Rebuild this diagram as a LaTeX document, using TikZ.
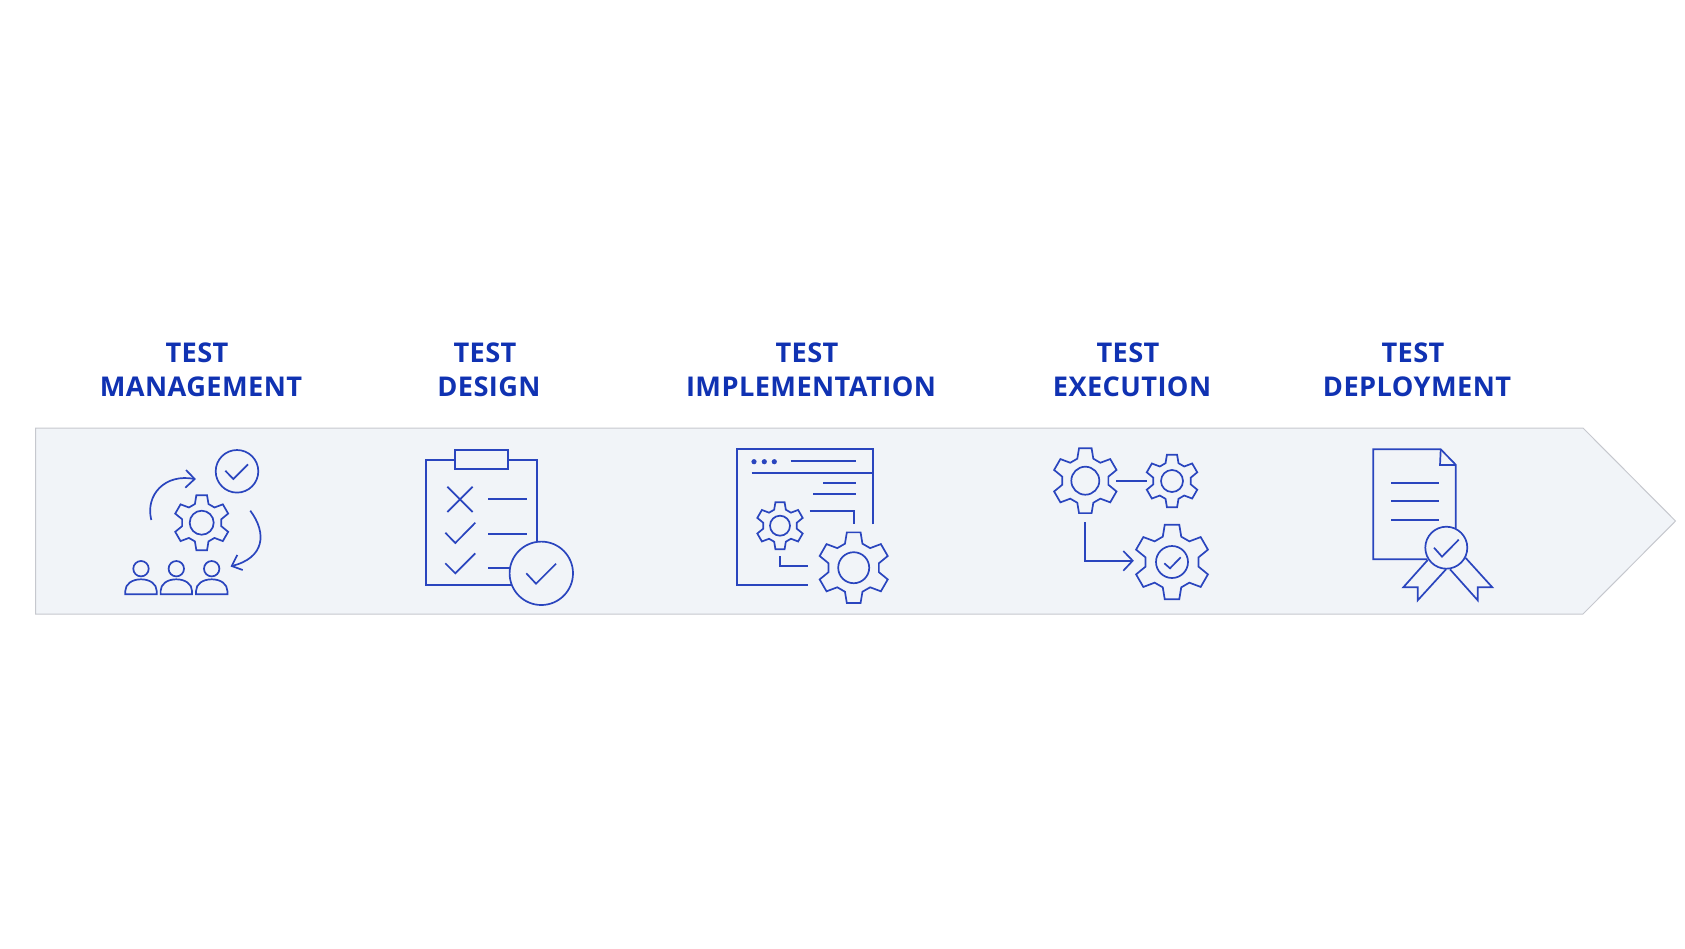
\documentclass[tikz,border=0pt]{standalone}
\usepackage{fontspec}
\setmainfont{Open Sans}[LetterSpace=1.5]
\definecolor{iconblue}{HTML}{2A45BE}
\definecolor{titleblue}{HTML}{1032B2}
\definecolor{bandfill}{HTML}{F1F4F8}
\definecolor{bandline}{HTML}{C6C8CE}
\tikzset{
  ink/.style={draw=iconblue,line width=1.7pt,line join=miter,fill=none},
  title/.style={text=titleblue,font=\bfseries\fontsize{27.2}{34}\selectfont,inner sep=0pt,anchor=base},
}
\newcommand{\gearicon}[4]{% x,y,R,hole
  \draw[ink,shift={(#1,#2)}] (101:#3)
    \foreach \a in {90,30,-30,-90,-150,-210} {
      -- (\a+11:#3) -- (\a-11:#3) -- (\a-20:0.71*#3) -- (\a-40:0.71*#3)
    } -- cycle;
  \draw[ink] (#1,#2) circle[radius=#4];
}
\newcommand{\personicon}[1]{%
  \draw[ink] (#1,568.7) circle[radius=7.7];
  \draw[ink] (#1-15.7,594.3) -- (#1+15.7,594.3) -- (#1+15.7,591)
    .. controls (#1+15.7,584) and (#1+9,579.3) .. (#1,579.3)
    .. controls (#1-9,579.3) and (#1-15.7,584) .. (#1-15.7,591) -- cycle;
}
\begin{document}
\begin{tikzpicture}[x=1pt,y=-1pt]
\useasboundingbox (0,0) rectangle (1685,948);
% banner
\draw[fill=bandfill,draw=bandline,line width=1pt] (35.5,428) -- (1583,428) -- (1675.5,521) -- (1583,614) -- (35.5,614) -- cycle;
% titles
\node[title] (t1a) at (197,362) {TEST};
\node[title] (t1b) at (201,396) {MANAGEMENT};
\node[title] (t2a) at (485,362) {TEST};
\node[title] (t2b) at (489,396) {DESIGN};
\node[title] (t3a) at (807,362) {TEST};
\node[title] (t3b) at (811,396) {IMPLEMENTATION};
\node[title] (t4a) at (1128,362) {TEST};
\node[title] (t4b) at (1132,396) {EXECUTION};
\node[title] (t5a) at (1413,362) {TEST};
\node[title] (t5b) at (1417,396) {DEPLOYMENT};
% icon 1
\draw[ink] (237,471.3) circle[radius=21.3];
\draw[ink] (225.3,470.7) -- (233.3,479) -- (248,464.3);
\gearicon{201.7}{522.7}{28}{12}
\draw[ink] (151.3,520) .. controls (145,495) and (165,473) .. (194.7,479);
\draw[ink] (186,470) -- (194.7,479) -- (185.3,487.7);
\draw[ink] (250.3,510.7) .. controls (267,533) and (265,558) .. (231.7,566);
\draw[ink] (237.3,555) -- (231.7,566) -- (242.7,570);
\personicon{141}
\personicon{176.3}
\personicon{211.7}
% icon 2
\draw[ink] (455,459.7) -- (426,459.7) -- (426,585.3) -- (511.7,585.3);
\draw[ink] (508.3,459.7) -- (537.3,459.7) -- (537.3,541.7);
\draw[ink] (455,450) rectangle (508.3,469.3);
\draw[ink] (447.3,486.7) -- (472.7,512);
\draw[ink] (447.3,512) -- (472.7,486.7);
\draw[ink] (488,499.3) -- (527,499.3);
\draw[ink] (445.3,532.7) -- (455.3,543) -- (475.3,522.7);
\draw[ink] (488,534) -- (527,534);
\draw[ink] (445.3,563.3) -- (455.3,573.3) -- (475.3,553.3);
\draw[ink] (488,568) -- (510,568);
\draw[ink] (541.3,573.3) circle[radius=31.7];
\draw[ink] (526.3,573.3) -- (536,583.7) -- (556,563.7);
% icon 3
\draw[ink] (872.7,524.3) -- (872.7,449.3) -- (737.3,449.3) -- (737.3,584.7) -- (808,584.7);
\draw[ink] (751.7,472.7) -- (872.7,472.7);
\fill[iconblue] (754,461.7) circle[radius=2.6] (764.3,461.7) circle[radius=2.6] (774.3,461.7) circle[radius=2.6];
\draw[ink] (790.7,461.3) -- (855.7,461.3);
\draw[ink] (823.3,483.3) -- (855.7,483.3);
\draw[ink] (813,494) -- (855.7,494);
\draw[ink] (809.7,511) -- (854,511) -- (854,524.3);
\draw[ink] (780,556) -- (780,565.7) -- (808,565.7);
\gearicon{780}{525.7}{24}{10}
\gearicon{853.7}{567.7}{36}{15.5}
% icon 4
\gearicon{1085.3}{480.7}{33}{14}
\gearicon{1172}{481}{26.7}{11}
\gearicon{1172}{562}{38}{16}
\draw[ink] (1164.3,563.3) -- (1170,568.3) -- (1180.7,557.3);
\draw[ink] (1116,480.7) -- (1146.7,480.7);
\draw[ink] (1085.3,522.3) -- (1085.3,560.7) -- (1132.7,560.7);
\draw[ink] (1123.3,551) -- (1132.7,560.7) -- (1123.3,570.7);
% icon 5
\draw[ink] (1455.7,528.7) -- (1455.7,464.7) -- (1440.7,449.3) -- (1373.3,449.3) -- (1373.3,559.3) -- (1427.3,559.3);
\draw[ink] (1440.7,449.3) -- (1440,465) -- (1455.7,465);
\draw[ink] (1391.3,483.3) -- (1439.3,483.3);
\draw[ink] (1391.3,501.3) -- (1439.3,501.3);
\draw[ink] (1391.3,520) -- (1439.3,520);
\draw[ink] (1446.3,547.7) circle[radius=21];
\draw[ink] (1434,547.7) -- (1442,556.7) -- (1458.7,539.7);
\draw[ink] (1427.7,560) -- (1403.3,587.3) -- (1417.7,587.3) -- (1417.7,600.3) -- (1446,569.3);
\draw[ink] (1450,569.3) -- (1477.7,600.3) -- (1477.7,587.3) -- (1492.3,587.3) -- (1465.7,558);
\end{tikzpicture}
\end{document}
